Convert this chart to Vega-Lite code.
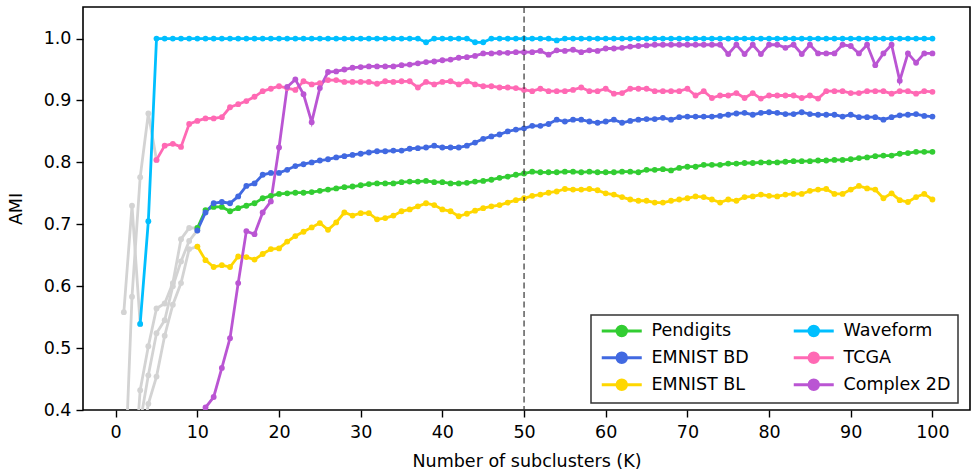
{
  "$schema": "https://vega.github.io/schema/vega-lite/v6.json",
  "autosize": "none",
  "width": 887,
  "height": 403,
  "padding": {"left": 83, "top": 7, "right": 2, "bottom": 65},
  "background": "white",
  "config": {
    "view": {"stroke": "black", "strokeWidth": 1.6},
    "axis": {"domain": false, "grid": false, "tickColor": "black", "tickSize": 7, "tickWidth": 1.4, "labelFont": "DejaVu Sans", "labelFontSize": 17.5, "labelColor": "black", "titleFont": "DejaVu Sans", "titleFontSize": 17.5, "titleFontWeight": "normal", "titleColor": "black"},
    "legend": {"labelFont": "DejaVu Sans", "labelFontSize": 17.5, "labelColor": "black"}
  },
  "datasets": {
    "grey": [
      {"K":1,"g":"Waveform","v":0.558},{"K":2,"g":"Waveform","v":0.730},{"K":3,"g":"Waveform","v":0.539},
      {"K":1,"g":"TCGA","v":0.25},{"K":2,"g":"TCGA","v":0.583},{"K":3,"g":"TCGA","v":0.776},{"K":4,"g":"TCGA","v":0.879},{"K":5,"g":"TCGA","v":0.804},
      {"K":1,"g":"Pendigits","v":0.10},{"K":2,"g":"Pendigits","v":0.25},{"K":3,"g":"Pendigits","v":0.432},{"K":4,"g":"Pendigits","v":0.503},{"K":5,"g":"Pendigits","v":0.564},{"K":6,"g":"Pendigits","v":0.572},{"K":7,"g":"Pendigits","v":0.605},{"K":8,"g":"Pendigits","v":0.676},{"K":9,"g":"Pendigits","v":0.694},{"K":10,"g":"Pendigits","v":0.694},
      {"K":1,"g":"EMNIST BD","v":0.10},{"K":2,"g":"EMNIST BD","v":0.22},{"K":3,"g":"EMNIST BD","v":0.38},{"K":4,"g":"EMNIST BD","v":0.456},{"K":5,"g":"EMNIST BD","v":0.524},{"K":6,"g":"EMNIST BD","v":0.545},{"K":7,"g":"EMNIST BD","v":0.60},{"K":8,"g":"EMNIST BD","v":0.640},{"K":9,"g":"EMNIST BD","v":0.673},{"K":10,"g":"EMNIST BD","v":0.690},
      {"K":1,"g":"EMNIST BL","v":0.05},{"K":2,"g":"EMNIST BL","v":0.20},{"K":3,"g":"EMNIST BL","v":0.33},{"K":4,"g":"EMNIST BL","v":0.41},{"K":5,"g":"EMNIST BL","v":0.454},{"K":6,"g":"EMNIST BL","v":0.52},{"K":7,"g":"EMNIST BL","v":0.57},{"K":8,"g":"EMNIST BL","v":0.605},{"K":9,"g":"EMNIST BL","v":0.66},{"K":10,"g":"EMNIST BL","v":0.664},
      {"K":1,"g":"Complex 2D","v":0.02},{"K":2,"g":"Complex 2D","v":0.05},{"K":3,"g":"Complex 2D","v":0.08},{"K":4,"g":"Complex 2D","v":0.12},{"K":5,"g":"Complex 2D","v":0.15},{"K":6,"g":"Complex 2D","v":0.20},{"K":7,"g":"Complex 2D","v":0.24},{"K":8,"g":"Complex 2D","v":0.28},{"K":9,"g":"Complex 2D","v":0.33},{"K":10,"g":"Complex 2D","v":0.37}
    ],
    "main": [
      {"K":10,"s":"Pendigits","v":0.694},{"K":11,"s":"Pendigits","v":0.723},{"K":12,"s":"Pendigits","v":0.728},{"K":13,"s":"Pendigits","v":0.728},{"K":14,"s":"Pendigits","v":0.721},{"K":15,"s":"Pendigits","v":0.726},{"K":16,"s":"Pendigits","v":0.730},{"K":17,"s":"Pendigits","v":0.734},{"K":18,"s":"Pendigits","v":0.742},{"K":19,"s":"Pendigits","v":0.746},
      {"K":20,"s":"Pendigits","v":0.749},{"K":21,"s":"Pendigits","v":0.750},{"K":22,"s":"Pendigits","v":0.751},{"K":23,"s":"Pendigits","v":0.751},{"K":24,"s":"Pendigits","v":0.752},{"K":25,"s":"Pendigits","v":0.754},{"K":26,"s":"Pendigits","v":0.756},{"K":27,"s":"Pendigits","v":0.758},{"K":28,"s":"Pendigits","v":0.760},{"K":29,"s":"Pendigits","v":0.761},
      {"K":30,"s":"Pendigits","v":0.763},{"K":31,"s":"Pendigits","v":0.765},{"K":32,"s":"Pendigits","v":0.766},{"K":33,"s":"Pendigits","v":0.766},{"K":34,"s":"Pendigits","v":0.766},{"K":35,"s":"Pendigits","v":0.768},{"K":36,"s":"Pendigits","v":0.769},{"K":37,"s":"Pendigits","v":0.769},{"K":38,"s":"Pendigits","v":0.770},{"K":39,"s":"Pendigits","v":0.768},
      {"K":40,"s":"Pendigits","v":0.768},{"K":41,"s":"Pendigits","v":0.766},{"K":42,"s":"Pendigits","v":0.766},{"K":43,"s":"Pendigits","v":0.767},{"K":44,"s":"Pendigits","v":0.769},{"K":45,"s":"Pendigits","v":0.770},{"K":46,"s":"Pendigits","v":0.772},{"K":47,"s":"Pendigits","v":0.775},{"K":48,"s":"Pendigits","v":0.777},{"K":49,"s":"Pendigits","v":0.780},
      {"K":50,"s":"Pendigits","v":0.782},{"K":51,"s":"Pendigits","v":0.785},{"K":52,"s":"Pendigits","v":0.784},{"K":53,"s":"Pendigits","v":0.784},{"K":54,"s":"Pendigits","v":0.784},{"K":55,"s":"Pendigits","v":0.785},{"K":56,"s":"Pendigits","v":0.785},{"K":57,"s":"Pendigits","v":0.784},{"K":58,"s":"Pendigits","v":0.785},{"K":59,"s":"Pendigits","v":0.784},
      {"K":60,"s":"Pendigits","v":0.784},{"K":61,"s":"Pendigits","v":0.784},{"K":62,"s":"Pendigits","v":0.785},{"K":63,"s":"Pendigits","v":0.785},{"K":64,"s":"Pendigits","v":0.784},{"K":65,"s":"Pendigits","v":0.788},{"K":66,"s":"Pendigits","v":0.788},{"K":67,"s":"Pendigits","v":0.789},{"K":68,"s":"Pendigits","v":0.787},{"K":69,"s":"Pendigits","v":0.791},
      {"K":70,"s":"Pendigits","v":0.793},{"K":71,"s":"Pendigits","v":0.793},{"K":72,"s":"Pendigits","v":0.796},{"K":73,"s":"Pendigits","v":0.796},{"K":74,"s":"Pendigits","v":0.796},{"K":75,"s":"Pendigits","v":0.798},{"K":76,"s":"Pendigits","v":0.798},{"K":77,"s":"Pendigits","v":0.799},{"K":78,"s":"Pendigits","v":0.799},{"K":79,"s":"Pendigits","v":0.800},
      {"K":80,"s":"Pendigits","v":0.800},{"K":81,"s":"Pendigits","v":0.800},{"K":82,"s":"Pendigits","v":0.801},{"K":83,"s":"Pendigits","v":0.802},{"K":84,"s":"Pendigits","v":0.802},{"K":85,"s":"Pendigits","v":0.802},{"K":86,"s":"Pendigits","v":0.803},{"K":87,"s":"Pendigits","v":0.803},{"K":88,"s":"Pendigits","v":0.804},{"K":89,"s":"Pendigits","v":0.804},
      {"K":90,"s":"Pendigits","v":0.805},{"K":91,"s":"Pendigits","v":0.807},{"K":92,"s":"Pendigits","v":0.808},{"K":93,"s":"Pendigits","v":0.810},{"K":94,"s":"Pendigits","v":0.811},{"K":95,"s":"Pendigits","v":0.811},{"K":96,"s":"Pendigits","v":0.814},{"K":97,"s":"Pendigits","v":0.815},{"K":98,"s":"Pendigits","v":0.817},{"K":99,"s":"Pendigits","v":0.817},{"K":100,"s":"Pendigits","v":0.817},

      {"K":10,"s":"EMNIST BD","v":0.690},{"K":11,"s":"EMNIST BD","v":0.719},{"K":12,"s":"EMNIST BD","v":0.734},{"K":13,"s":"EMNIST BD","v":0.736},{"K":14,"s":"EMNIST BD","v":0.734},{"K":15,"s":"EMNIST BD","v":0.745},{"K":16,"s":"EMNIST BD","v":0.762},{"K":17,"s":"EMNIST BD","v":0.766},{"K":18,"s":"EMNIST BD","v":0.780},{"K":19,"s":"EMNIST BD","v":0.783},
      {"K":20,"s":"EMNIST BD","v":0.783},{"K":21,"s":"EMNIST BD","v":0.788},{"K":22,"s":"EMNIST BD","v":0.794},{"K":23,"s":"EMNIST BD","v":0.797},{"K":24,"s":"EMNIST BD","v":0.800},{"K":25,"s":"EMNIST BD","v":0.803},{"K":26,"s":"EMNIST BD","v":0.805},{"K":27,"s":"EMNIST BD","v":0.808},{"K":28,"s":"EMNIST BD","v":0.810},{"K":29,"s":"EMNIST BD","v":0.812},
      {"K":30,"s":"EMNIST BD","v":0.814},{"K":31,"s":"EMNIST BD","v":0.816},{"K":32,"s":"EMNIST BD","v":0.818},{"K":33,"s":"EMNIST BD","v":0.818},{"K":34,"s":"EMNIST BD","v":0.819},{"K":35,"s":"EMNIST BD","v":0.819},{"K":36,"s":"EMNIST BD","v":0.822},{"K":37,"s":"EMNIST BD","v":0.823},{"K":38,"s":"EMNIST BD","v":0.824},{"K":39,"s":"EMNIST BD","v":0.827},
      {"K":40,"s":"EMNIST BD","v":0.824},{"K":41,"s":"EMNIST BD","v":0.824},{"K":42,"s":"EMNIST BD","v":0.824},{"K":43,"s":"EMNIST BD","v":0.827},{"K":44,"s":"EMNIST BD","v":0.832},{"K":45,"s":"EMNIST BD","v":0.838},{"K":46,"s":"EMNIST BD","v":0.842},{"K":47,"s":"EMNIST BD","v":0.845},{"K":48,"s":"EMNIST BD","v":0.850},{"K":49,"s":"EMNIST BD","v":0.853},
      {"K":50,"s":"EMNIST BD","v":0.855},{"K":51,"s":"EMNIST BD","v":0.859},{"K":52,"s":"EMNIST BD","v":0.859},{"K":53,"s":"EMNIST BD","v":0.862},{"K":54,"s":"EMNIST BD","v":0.869},{"K":55,"s":"EMNIST BD","v":0.866},{"K":56,"s":"EMNIST BD","v":0.869},{"K":57,"s":"EMNIST BD","v":0.869},{"K":58,"s":"EMNIST BD","v":0.866},{"K":59,"s":"EMNIST BD","v":0.864},
      {"K":60,"s":"EMNIST BD","v":0.866},{"K":61,"s":"EMNIST BD","v":0.869},{"K":62,"s":"EMNIST BD","v":0.864},{"K":63,"s":"EMNIST BD","v":0.867},{"K":64,"s":"EMNIST BD","v":0.869},{"K":65,"s":"EMNIST BD","v":0.870},{"K":66,"s":"EMNIST BD","v":0.870},{"K":67,"s":"EMNIST BD","v":0.872},{"K":68,"s":"EMNIST BD","v":0.869},{"K":69,"s":"EMNIST BD","v":0.873},
      {"K":70,"s":"EMNIST BD","v":0.874},{"K":71,"s":"EMNIST BD","v":0.874},{"K":72,"s":"EMNIST BD","v":0.874},{"K":73,"s":"EMNIST BD","v":0.874},{"K":74,"s":"EMNIST BD","v":0.875},{"K":75,"s":"EMNIST BD","v":0.877},{"K":76,"s":"EMNIST BD","v":0.879},{"K":77,"s":"EMNIST BD","v":0.880},{"K":78,"s":"EMNIST BD","v":0.877},{"K":79,"s":"EMNIST BD","v":0.880},
      {"K":80,"s":"EMNIST BD","v":0.881},{"K":81,"s":"EMNIST BD","v":0.880},{"K":82,"s":"EMNIST BD","v":0.878},{"K":83,"s":"EMNIST BD","v":0.878},{"K":84,"s":"EMNIST BD","v":0.881},{"K":85,"s":"EMNIST BD","v":0.878},{"K":86,"s":"EMNIST BD","v":0.877},{"K":87,"s":"EMNIST BD","v":0.877},{"K":88,"s":"EMNIST BD","v":0.877},{"K":89,"s":"EMNIST BD","v":0.874},
      {"K":90,"s":"EMNIST BD","v":0.877},{"K":91,"s":"EMNIST BD","v":0.873},{"K":92,"s":"EMNIST BD","v":0.873},{"K":93,"s":"EMNIST BD","v":0.873},{"K":94,"s":"EMNIST BD","v":0.869},{"K":95,"s":"EMNIST BD","v":0.873},{"K":96,"s":"EMNIST BD","v":0.876},{"K":97,"s":"EMNIST BD","v":0.877},{"K":98,"s":"EMNIST BD","v":0.878},{"K":99,"s":"EMNIST BD","v":0.875},{"K":100,"s":"EMNIST BD","v":0.874},

      {"K":10,"s":"EMNIST BL","v":0.664},{"K":11,"s":"EMNIST BL","v":0.642},{"K":12,"s":"EMNIST BL","v":0.631},{"K":13,"s":"EMNIST BL","v":0.634},{"K":14,"s":"EMNIST BL","v":0.631},{"K":15,"s":"EMNIST BL","v":0.648},{"K":16,"s":"EMNIST BL","v":0.647},{"K":17,"s":"EMNIST BL","v":0.643},{"K":18,"s":"EMNIST BL","v":0.652},{"K":19,"s":"EMNIST BL","v":0.660},
      {"K":20,"s":"EMNIST BL","v":0.661},{"K":21,"s":"EMNIST BL","v":0.672},{"K":22,"s":"EMNIST BL","v":0.681},{"K":23,"s":"EMNIST BL","v":0.688},{"K":24,"s":"EMNIST BL","v":0.695},{"K":25,"s":"EMNIST BL","v":0.702},{"K":26,"s":"EMNIST BL","v":0.691},{"K":27,"s":"EMNIST BL","v":0.703},{"K":28,"s":"EMNIST BL","v":0.719},{"K":29,"s":"EMNIST BL","v":0.714},
      {"K":30,"s":"EMNIST BL","v":0.718},{"K":31,"s":"EMNIST BL","v":0.718},{"K":32,"s":"EMNIST BL","v":0.708},{"K":33,"s":"EMNIST BL","v":0.710},{"K":34,"s":"EMNIST BL","v":0.714},{"K":35,"s":"EMNIST BL","v":0.721},{"K":36,"s":"EMNIST BL","v":0.724},{"K":37,"s":"EMNIST BL","v":0.729},{"K":38,"s":"EMNIST BL","v":0.734},{"K":39,"s":"EMNIST BL","v":0.731},
      {"K":40,"s":"EMNIST BL","v":0.724},{"K":41,"s":"EMNIST BL","v":0.721},{"K":42,"s":"EMNIST BL","v":0.713},{"K":43,"s":"EMNIST BL","v":0.717},{"K":44,"s":"EMNIST BL","v":0.722},{"K":45,"s":"EMNIST BL","v":0.726},{"K":46,"s":"EMNIST BL","v":0.729},{"K":47,"s":"EMNIST BL","v":0.731},{"K":48,"s":"EMNIST BL","v":0.735},{"K":49,"s":"EMNIST BL","v":0.739},
      {"K":50,"s":"EMNIST BL","v":0.742},{"K":51,"s":"EMNIST BL","v":0.746},{"K":52,"s":"EMNIST BL","v":0.748},{"K":53,"s":"EMNIST BL","v":0.751},{"K":54,"s":"EMNIST BL","v":0.753},{"K":55,"s":"EMNIST BL","v":0.757},{"K":56,"s":"EMNIST BL","v":0.756},{"K":57,"s":"EMNIST BL","v":0.756},{"K":58,"s":"EMNIST BL","v":0.757},{"K":59,"s":"EMNIST BL","v":0.755},
      {"K":60,"s":"EMNIST BL","v":0.750},{"K":61,"s":"EMNIST BL","v":0.748},{"K":62,"s":"EMNIST BL","v":0.744},{"K":63,"s":"EMNIST BL","v":0.740},{"K":64,"s":"EMNIST BL","v":0.738},{"K":65,"s":"EMNIST BL","v":0.738},{"K":66,"s":"EMNIST BL","v":0.735},{"K":67,"s":"EMNIST BL","v":0.735},{"K":68,"s":"EMNIST BL","v":0.738},{"K":69,"s":"EMNIST BL","v":0.740},
      {"K":70,"s":"EMNIST BL","v":0.742},{"K":71,"s":"EMNIST BL","v":0.745},{"K":72,"s":"EMNIST BL","v":0.744},{"K":73,"s":"EMNIST BL","v":0.740},{"K":74,"s":"EMNIST BL","v":0.735},{"K":75,"s":"EMNIST BL","v":0.740},{"K":76,"s":"EMNIST BL","v":0.738},{"K":77,"s":"EMNIST BL","v":0.744},{"K":78,"s":"EMNIST BL","v":0.745},{"K":79,"s":"EMNIST BL","v":0.748},
      {"K":80,"s":"EMNIST BL","v":0.746},{"K":81,"s":"EMNIST BL","v":0.745},{"K":82,"s":"EMNIST BL","v":0.748},{"K":83,"s":"EMNIST BL","v":0.749},{"K":84,"s":"EMNIST BL","v":0.749},{"K":85,"s":"EMNIST BL","v":0.754},{"K":86,"s":"EMNIST BL","v":0.756},{"K":87,"s":"EMNIST BL","v":0.757},{"K":88,"s":"EMNIST BL","v":0.749},{"K":89,"s":"EMNIST BL","v":0.749},
      {"K":90,"s":"EMNIST BL","v":0.756},{"K":91,"s":"EMNIST BL","v":0.762},{"K":92,"s":"EMNIST BL","v":0.758},{"K":93,"s":"EMNIST BL","v":0.756},{"K":94,"s":"EMNIST BL","v":0.742},{"K":95,"s":"EMNIST BL","v":0.750},{"K":96,"s":"EMNIST BL","v":0.739},{"K":97,"s":"EMNIST BL","v":0.736},{"K":98,"s":"EMNIST BL","v":0.744},{"K":99,"s":"EMNIST BL","v":0.749},{"K":100,"s":"EMNIST BL","v":0.740},

      {"K":3,"s":"Waveform","v":0.539},{"K":4,"s":"Waveform","v":0.705},{"K":5,"s":"Waveform","v":1.0},{"K":6,"s":"Waveform","v":1.0},{"K":7,"s":"Waveform","v":1.0},{"K":8,"s":"Waveform","v":1.0},{"K":9,"s":"Waveform","v":1.0},
      {"K":10,"s":"Waveform","v":1.0},{"K":11,"s":"Waveform","v":1.0},{"K":12,"s":"Waveform","v":1.0},{"K":13,"s":"Waveform","v":1.0},{"K":14,"s":"Waveform","v":1.0},{"K":15,"s":"Waveform","v":1.0},{"K":16,"s":"Waveform","v":1.0},{"K":17,"s":"Waveform","v":1.0},{"K":18,"s":"Waveform","v":1.0},{"K":19,"s":"Waveform","v":1.0},
      {"K":20,"s":"Waveform","v":1.0},{"K":21,"s":"Waveform","v":1.0},{"K":22,"s":"Waveform","v":1.0},{"K":23,"s":"Waveform","v":1.0},{"K":24,"s":"Waveform","v":1.0},{"K":25,"s":"Waveform","v":1.0},{"K":26,"s":"Waveform","v":1.0},{"K":27,"s":"Waveform","v":1.0},{"K":28,"s":"Waveform","v":1.0},{"K":29,"s":"Waveform","v":1.0},
      {"K":30,"s":"Waveform","v":1.0},{"K":31,"s":"Waveform","v":1.0},{"K":32,"s":"Waveform","v":1.0},{"K":33,"s":"Waveform","v":1.0},{"K":34,"s":"Waveform","v":1.0},{"K":35,"s":"Waveform","v":1.0},{"K":36,"s":"Waveform","v":1.0},{"K":37,"s":"Waveform","v":1.0},{"K":38,"s":"Waveform","v":0.994},{"K":39,"s":"Waveform","v":1.0},
      {"K":40,"s":"Waveform","v":1.0},{"K":41,"s":"Waveform","v":1.0},{"K":42,"s":"Waveform","v":1.0},{"K":43,"s":"Waveform","v":1.0},{"K":44,"s":"Waveform","v":0.994},{"K":45,"s":"Waveform","v":0.994},{"K":46,"s":"Waveform","v":1.0},{"K":47,"s":"Waveform","v":1.0},{"K":48,"s":"Waveform","v":1.0},{"K":49,"s":"Waveform","v":1.0},
      {"K":50,"s":"Waveform","v":1.0},{"K":51,"s":"Waveform","v":1.0},{"K":52,"s":"Waveform","v":1.0},{"K":53,"s":"Waveform","v":1.0},{"K":54,"s":"Waveform","v":0.997},{"K":55,"s":"Waveform","v":1.0},{"K":56,"s":"Waveform","v":1.0},{"K":57,"s":"Waveform","v":1.0},{"K":58,"s":"Waveform","v":1.0},{"K":59,"s":"Waveform","v":1.0},
      {"K":60,"s":"Waveform","v":1.0},{"K":61,"s":"Waveform","v":1.0},{"K":62,"s":"Waveform","v":1.0},{"K":63,"s":"Waveform","v":1.0},{"K":64,"s":"Waveform","v":1.0},{"K":65,"s":"Waveform","v":1.0},{"K":66,"s":"Waveform","v":1.0},{"K":67,"s":"Waveform","v":1.0},{"K":68,"s":"Waveform","v":1.0},{"K":69,"s":"Waveform","v":1.0},
      {"K":70,"s":"Waveform","v":1.0},{"K":71,"s":"Waveform","v":1.0},{"K":72,"s":"Waveform","v":1.0},{"K":73,"s":"Waveform","v":1.0},{"K":74,"s":"Waveform","v":1.0},{"K":75,"s":"Waveform","v":1.0},{"K":76,"s":"Waveform","v":1.0},{"K":77,"s":"Waveform","v":1.0},{"K":78,"s":"Waveform","v":1.0},{"K":79,"s":"Waveform","v":1.0},
      {"K":80,"s":"Waveform","v":1.0},{"K":81,"s":"Waveform","v":1.0},{"K":82,"s":"Waveform","v":1.0},{"K":83,"s":"Waveform","v":1.0},{"K":84,"s":"Waveform","v":1.0},{"K":85,"s":"Waveform","v":1.0},{"K":86,"s":"Waveform","v":1.0},{"K":87,"s":"Waveform","v":1.0},{"K":88,"s":"Waveform","v":1.0},{"K":89,"s":"Waveform","v":1.0},
      {"K":90,"s":"Waveform","v":1.0},{"K":91,"s":"Waveform","v":1.0},{"K":92,"s":"Waveform","v":1.0},{"K":93,"s":"Waveform","v":1.0},{"K":94,"s":"Waveform","v":1.0},{"K":95,"s":"Waveform","v":1.0},{"K":96,"s":"Waveform","v":1.0},{"K":97,"s":"Waveform","v":1.0},{"K":98,"s":"Waveform","v":1.0},{"K":99,"s":"Waveform","v":1.0},{"K":100,"s":"Waveform","v":1.0},

      {"K":5,"s":"TCGA","v":0.804},{"K":6,"s":"TCGA","v":0.827},{"K":7,"s":"TCGA","v":0.830},{"K":8,"s":"TCGA","v":0.825},{"K":9,"s":"TCGA","v":0.862},
      {"K":10,"s":"TCGA","v":0.867},{"K":11,"s":"TCGA","v":0.871},{"K":12,"s":"TCGA","v":0.871},{"K":13,"s":"TCGA","v":0.873},{"K":14,"s":"TCGA","v":0.889},{"K":15,"s":"TCGA","v":0.894},{"K":16,"s":"TCGA","v":0.899},{"K":17,"s":"TCGA","v":0.906},{"K":18,"s":"TCGA","v":0.915},{"K":19,"s":"TCGA","v":0.919},
      {"K":20,"s":"TCGA","v":0.923},{"K":21,"s":"TCGA","v":0.920},{"K":22,"s":"TCGA","v":0.917},{"K":23,"s":"TCGA","v":0.931},{"K":24,"s":"TCGA","v":0.926},{"K":25,"s":"TCGA","v":0.928},{"K":26,"s":"TCGA","v":0.933},{"K":27,"s":"TCGA","v":0.933},{"K":28,"s":"TCGA","v":0.930},{"K":29,"s":"TCGA","v":0.930},
      {"K":30,"s":"TCGA","v":0.930},{"K":31,"s":"TCGA","v":0.930},{"K":32,"s":"TCGA","v":0.927},{"K":33,"s":"TCGA","v":0.931},{"K":34,"s":"TCGA","v":0.930},{"K":35,"s":"TCGA","v":0.931},{"K":36,"s":"TCGA","v":0.931},{"K":37,"s":"TCGA","v":0.921},{"K":38,"s":"TCGA","v":0.930},{"K":39,"s":"TCGA","v":0.926},
      {"K":40,"s":"TCGA","v":0.930},{"K":41,"s":"TCGA","v":0.931},{"K":42,"s":"TCGA","v":0.926},{"K":43,"s":"TCGA","v":0.931},{"K":44,"s":"TCGA","v":0.926},{"K":45,"s":"TCGA","v":0.923},{"K":46,"s":"TCGA","v":0.923},{"K":47,"s":"TCGA","v":0.921},{"K":48,"s":"TCGA","v":0.921},{"K":49,"s":"TCGA","v":0.920},
      {"K":50,"s":"TCGA","v":0.917},{"K":51,"s":"TCGA","v":0.915},{"K":52,"s":"TCGA","v":0.919},{"K":53,"s":"TCGA","v":0.915},{"K":54,"s":"TCGA","v":0.915},{"K":55,"s":"TCGA","v":0.915},{"K":56,"s":"TCGA","v":0.917},{"K":57,"s":"TCGA","v":0.921},{"K":58,"s":"TCGA","v":0.915},{"K":59,"s":"TCGA","v":0.915},
      {"K":60,"s":"TCGA","v":0.919},{"K":61,"s":"TCGA","v":0.911},{"K":62,"s":"TCGA","v":0.912},{"K":63,"s":"TCGA","v":0.919},{"K":64,"s":"TCGA","v":0.919},{"K":65,"s":"TCGA","v":0.919},{"K":66,"s":"TCGA","v":0.915},{"K":67,"s":"TCGA","v":0.915},{"K":68,"s":"TCGA","v":0.915},{"K":69,"s":"TCGA","v":0.915},
      {"K":70,"s":"TCGA","v":0.919},{"K":71,"s":"TCGA","v":0.908},{"K":72,"s":"TCGA","v":0.915},{"K":73,"s":"TCGA","v":0.904},{"K":74,"s":"TCGA","v":0.908},{"K":75,"s":"TCGA","v":0.908},{"K":76,"s":"TCGA","v":0.912},{"K":77,"s":"TCGA","v":0.904},{"K":78,"s":"TCGA","v":0.912},{"K":79,"s":"TCGA","v":0.903},
      {"K":80,"s":"TCGA","v":0.908},{"K":81,"s":"TCGA","v":0.908},{"K":82,"s":"TCGA","v":0.908},{"K":83,"s":"TCGA","v":0.908},{"K":84,"s":"TCGA","v":0.904},{"K":85,"s":"TCGA","v":0.908},{"K":86,"s":"TCGA","v":0.903},{"K":87,"s":"TCGA","v":0.915},{"K":88,"s":"TCGA","v":0.915},{"K":89,"s":"TCGA","v":0.915},
      {"K":90,"s":"TCGA","v":0.912},{"K":91,"s":"TCGA","v":0.912},{"K":92,"s":"TCGA","v":0.915},{"K":93,"s":"TCGA","v":0.915},{"K":94,"s":"TCGA","v":0.915},{"K":95,"s":"TCGA","v":0.911},{"K":96,"s":"TCGA","v":0.915},{"K":97,"s":"TCGA","v":0.915},{"K":98,"s":"TCGA","v":0.911},{"K":99,"s":"TCGA","v":0.915},{"K":100,"s":"TCGA","v":0.914},

      {"K":10,"s":"Complex 2D","v":0.37},{"K":11,"s":"Complex 2D","v":0.404},{"K":12,"s":"Complex 2D","v":0.421},{"K":13,"s":"Complex 2D","v":0.468},{"K":14,"s":"Complex 2D","v":0.516},{"K":15,"s":"Complex 2D","v":0.605},{"K":16,"s":"Complex 2D","v":0.689},{"K":17,"s":"Complex 2D","v":0.684},{"K":18,"s":"Complex 2D","v":0.719},{"K":19,"s":"Complex 2D","v":0.737},
      {"K":20,"s":"Complex 2D","v":0.824},{"K":21,"s":"Complex 2D","v":0.922},{"K":22,"s":"Complex 2D","v":0.934},{"K":23,"s":"Complex 2D","v":0.910},{"K":24,"s":"Complex 2D","v":0.865},{"K":25,"s":"Complex 2D","v":0.920},{"K":26,"s":"Complex 2D","v":0.946},{"K":27,"s":"Complex 2D","v":0.947},{"K":28,"s":"Complex 2D","v":0.950},{"K":29,"s":"Complex 2D","v":0.953},
      {"K":30,"s":"Complex 2D","v":0.954},{"K":31,"s":"Complex 2D","v":0.955},{"K":32,"s":"Complex 2D","v":0.955},{"K":33,"s":"Complex 2D","v":0.955},{"K":34,"s":"Complex 2D","v":0.955},{"K":35,"s":"Complex 2D","v":0.957},{"K":36,"s":"Complex 2D","v":0.958},{"K":37,"s":"Complex 2D","v":0.960},{"K":38,"s":"Complex 2D","v":0.962},{"K":39,"s":"Complex 2D","v":0.963},
      {"K":40,"s":"Complex 2D","v":0.965},{"K":41,"s":"Complex 2D","v":0.966},{"K":42,"s":"Complex 2D","v":0.969},{"K":43,"s":"Complex 2D","v":0.970},{"K":44,"s":"Complex 2D","v":0.972},{"K":45,"s":"Complex 2D","v":0.976},{"K":46,"s":"Complex 2D","v":0.976},{"K":47,"s":"Complex 2D","v":0.977},{"K":48,"s":"Complex 2D","v":0.977},{"K":49,"s":"Complex 2D","v":0.978},
      {"K":50,"s":"Complex 2D","v":0.978},{"K":51,"s":"Complex 2D","v":0.978},{"K":52,"s":"Complex 2D","v":0.980},{"K":53,"s":"Complex 2D","v":0.974},{"K":54,"s":"Complex 2D","v":0.981},{"K":55,"s":"Complex 2D","v":0.980},{"K":56,"s":"Complex 2D","v":0.982},{"K":57,"s":"Complex 2D","v":0.978},{"K":58,"s":"Complex 2D","v":0.981},{"K":59,"s":"Complex 2D","v":0.980},
      {"K":60,"s":"Complex 2D","v":0.984},{"K":61,"s":"Complex 2D","v":0.984},{"K":62,"s":"Complex 2D","v":0.985},{"K":63,"s":"Complex 2D","v":0.987},{"K":64,"s":"Complex 2D","v":0.988},{"K":65,"s":"Complex 2D","v":0.989},{"K":66,"s":"Complex 2D","v":0.990},{"K":67,"s":"Complex 2D","v":0.990},{"K":68,"s":"Complex 2D","v":0.990},{"K":69,"s":"Complex 2D","v":0.990},
      {"K":70,"s":"Complex 2D","v":0.990},{"K":71,"s":"Complex 2D","v":0.990},{"K":72,"s":"Complex 2D","v":0.990},{"K":73,"s":"Complex 2D","v":0.990},{"K":74,"s":"Complex 2D","v":0.990},{"K":75,"s":"Complex 2D","v":0.975},{"K":76,"s":"Complex 2D","v":0.990},{"K":77,"s":"Complex 2D","v":0.975},{"K":78,"s":"Complex 2D","v":0.990},{"K":79,"s":"Complex 2D","v":0.975},
      {"K":80,"s":"Complex 2D","v":0.990},{"K":81,"s":"Complex 2D","v":0.990},{"K":82,"s":"Complex 2D","v":0.985},{"K":83,"s":"Complex 2D","v":0.990},{"K":84,"s":"Complex 2D","v":0.975},{"K":85,"s":"Complex 2D","v":0.990},{"K":86,"s":"Complex 2D","v":0.976},{"K":87,"s":"Complex 2D","v":0.976},{"K":88,"s":"Complex 2D","v":0.976},{"K":89,"s":"Complex 2D","v":0.990},
      {"K":90,"s":"Complex 2D","v":0.988},{"K":91,"s":"Complex 2D","v":0.976},{"K":92,"s":"Complex 2D","v":0.990},{"K":93,"s":"Complex 2D","v":0.957},{"K":94,"s":"Complex 2D","v":0.976},{"K":95,"s":"Complex 2D","v":0.990},{"K":96,"s":"Complex 2D","v":0.932},{"K":97,"s":"Complex 2D","v":0.976},{"K":98,"s":"Complex 2D","v":0.961},{"K":99,"s":"Complex 2D","v":0.976},{"K":100,"s":"Complex 2D","v":0.976}
    ],
    "marker": [{"K": 50}]
  },
  "layer": [
    {
      "data": {"name": "grey"},
      "mark": {"type": "line", "clip": true, "color": "#d3d3d3", "strokeWidth": 2.8, "point": {"filled": true, "size": 34, "color": "#d3d3d3", "clip": true}},
      "encoding": {
        "x": {"field": "K", "type": "quantitative", "scale": {"domain": [-4.0, 104.6], "nice": false, "zero": false},
              "axis": {"values": [0,10,20,30,40,50,60,70,80,90,100], "title": "Number of subclusters (K)", "labelPadding": 6, "titlePadding": 12}},
        "y": {"field": "v", "type": "quantitative", "scale": {"domain": [0.4, 1.051], "nice": false, "zero": false},
              "axis": {"values": [0.4,0.5,0.6,0.7,0.8,0.9,1.0], "format": ".1f", "title": "AMI", "labelPadding": 5, "titlePadding": 18}},
        "detail": {"field": "g"}
      }
    },
    {
      "data": {"name": "main"},
      "mark": {"type": "line", "clip": true, "strokeWidth": 2.8, "point": {"filled": true, "size": 34, "clip": true}},
      "encoding": {
        "x": {"field": "K", "type": "quantitative"},
        "y": {"field": "v", "type": "quantitative"},
        "color": {"field": "s", "type": "nominal",
          "scale": {"domain": ["Pendigits","EMNIST BD","EMNIST BL","Waveform","TCGA","Complex 2D"],
                    "range": ["#32cd32","#4169e1","#ffd700","#00bfff","#ff69b4","#ba55d3"]},
          "legend": {"title": null, "orient": "none", "legendX": 508, "legendY": 308, "columns": 2, "columnPadding": 38, "rowPadding": 5,
                     "padding": 7, "fillColor": "white", "strokeColor": "#333333",
                     "symbolType": "M -4 0 L 4 0 M -0.95 0 A 0.95 0.95 0 1 1 0.95 0 A 0.95 0.95 0 1 1 -0.95 0 Z",
                     "symbolSize": 100, "symbolStrokeWidth": 3, "symbolOffset": 15, "labelOffset": 21,
                     "encode": {
                       "legend": {"update": {"strokeWidth": {"value": 1.5}}},
                       "symbols": {"update": {"fill": {"scale": "color", "field": "value"}, "stroke": {"scale": "color", "field": "value"}}}}}
        }
      }
    },
    {
      "data": {"name": "marker"},
      "mark": {"type": "rule", "color": "#333333", "strokeWidth": 1.2, "strokeDash": [6, 3.5]},
      "encoding": {"x": {"field": "K", "type": "quantitative"}}
    }
  ]
}
